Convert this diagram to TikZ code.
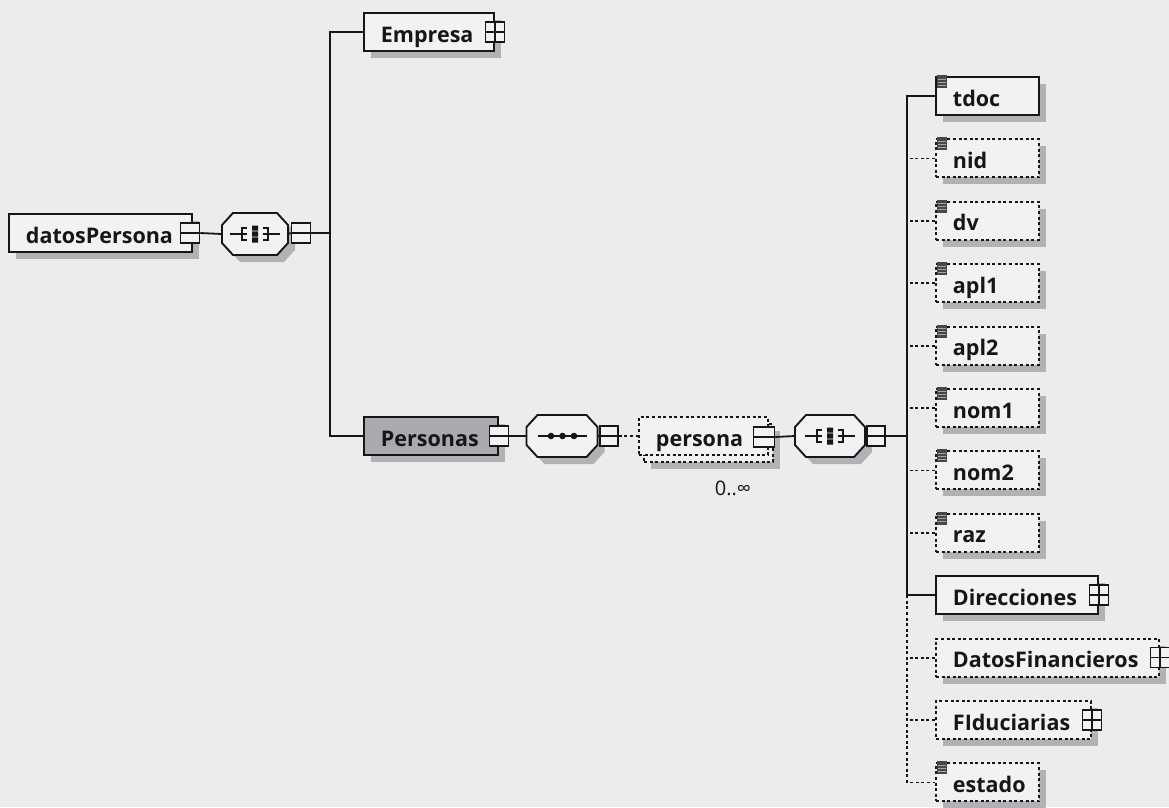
\documentclass[tikz,border=0pt]{standalone}
\usepackage{fontspec}
\setmainfont{Open Sans}
\usetikzlibrary{shadows,calc}
\definecolor{bg}{RGB}{235,237,237}
\definecolor{boxfill}{RGB}{241,243,243}
\definecolor{shadowc}{RGB}{176,178,182}
\definecolor{persfill}{RGB}{168,170,174}
\definecolor{ink}{RGB}{22,22,22}
\newcommand\elfont{\fontsize{21.5}{24}\selectfont\bfseries}
\newcommand\octa[4]{%
  \begin{scope}[shift={(#2,#3)}]
    \fill[shadowc,shift={(7,7)}] (-#4,-9) -- (-#4+11,-21) -- (#4-11,-21) -- (#4,-9) -- (#4,9) -- (#4-11,21) -- (-#4+11,21) -- (-#4,9) -- cycle;
    \filldraw[fill=boxfill,draw=ink,line width=1.9pt] (-#4,-9) -- (-#4+11,-21) -- (#4-11,-21) -- (#4,-9) -- (#4,9) -- (#4-11,21) -- (-#4+11,21) -- (-#4,9) -- cycle;
  \end{scope}
  \node[inner sep=0pt,minimum width=2*#4,minimum height=42] (#1) at (#2,#3) {};}
\newcommand\choicesym[2]{%
  \begin{scope}[shift={(#1,#2)},line width=1.5pt,draw=ink]
    \draw (-25,0) -- (-8,0) (-8,-6) -- (-13,-6) -- (-13,6) -- (-8,6);
    \draw (25,0) -- (8,0) (8,-6) -- (13,-6) -- (13,6) -- (8,6);
    \fill[ink] (-3,-8.5) rectangle (3,-3.3) (-3,-2.6) rectangle (3,2.6) (-3,3.3) rectangle (3,8.5);
  \end{scope}}
\newcommand\seqsym[2]{%
  \begin{scope}[shift={(#1,#2)}]
    \draw[line width=1.5pt,ink] (-24,0) -- (25,0);
    \fill[ink] (-11,0) circle (3.3) (0.5,0) circle (3.3) (12,0) circle (3.3);
  \end{scope}}
\newcommand\typeicon[1]{%
  \fill[black!72] ($(#1.north west)+(2,-1)$) rectangle ($(#1.north west)+(12,12)$);
  \draw[black!35,line width=0.8pt] ($(#1.north west)+(3,3)$) -- ($(#1.north west)+(11,3)$)
    ($(#1.north west)+(3,6)$) -- ($(#1.north west)+(11,6)$)
    ($(#1.north west)+(3,9)$) -- ($(#1.north west)+(11,9)$);}
\tikzset{
  shd/.style={general shadow={fill=shadowc,shadow xshift=7pt,shadow yshift=-7pt}},
  elem/.style={draw=ink,line width=1.9pt,fill=boxfill,inner xsep=0pt,inner ysep=0pt,
    minimum height=38pt,text height=24pt,text depth=4pt,align=left,font=\elfont,
    text=ink,anchor=west,execute at begin node={\noindent\hspace*{17pt}}},
  opt/.style={elem,dash pattern=on 3pt off 2.6pt},
  mbox/.style={draw=ink,line width=1.5pt,fill=boxfill,minimum width=19pt,minimum height=20pt,inner sep=0pt,
    path picture={\draw[ink,line width=1.5pt] (path picture bounding box.west) -- (path picture bounding box.east);}},
  pbox/.style={mbox,path picture={\draw[ink,line width=1.5pt] (path picture bounding box.west) -- (path picture bounding box.east)
     (path picture bounding box.north) -- (path picture bounding box.south);}},
  conn/.style={draw=ink,line width=1.8pt},
  dconn/.style={conn,dash pattern=on 3pt off 2.6pt},
}
\begin{document}
\begin{tikzpicture}[x=1pt,y=-1pt]
\fill[bg] (0,0) rectangle (1169,807);
\useasboundingbox (0,0) rectangle (1169,807);
% left part
\node[elem,shd,text width=183pt] (dp) at (8,233) {datosPersona};
\node[mbox] (dpm) at (190,233) {};
\octa{o1}{255}{234}{33}
\choicesym{255}{234}
\node[mbox] (o1m) at (301,233) {};
\coordinate (v1) at (330,233);
\node[elem,shd,text width=130pt] (emp) at (363,32) {Empresa};
\node[pbox] (empp) at (emp.east) {};
\node[elem,shd,fill=persfill,text width=134pt] (pers) at (363,436) {Personas};
\node[mbox] (persm) at (pers.east) {};
\draw[conn] (dpm.east) -- (o1.west);
\draw[conn] (o1.east) -- (o1m.west);
\draw[conn] (o1m.east) -- (v1);
\draw[conn] (emp.west) -| (v1) |- (pers.west);
% sequence
\octa{o2}{562}{436}{35.5}
\seqsym{562}{436}
\node[mbox,minimum width=18pt] (o2m) at (609,436) {};
% persona
\node[opt,shd,text width=129pt] (psnb) at (643,443) {\phantom{x}};
\node[opt,text width=129pt] (psn) at (638,436) {persona};
\node[mbox,minimum width=21pt] (psnm) at (764,437) {};
\node[font=\fontsize{20}{22}\selectfont,text=ink] (occ) at (733,488) {0..∞};
\draw[conn] (persm.east) -- (o2.west);
\draw[conn] (o2.east) -- (o2m.west);
\draw[dconn] (o2m.east) -- (psn.west);
% choice
\octa{o3}{830}{436}{35}
\choicesym{830}{436}
\node[mbox,minimum width=18pt] (o3m) at (876,436) {};
\coordinate (v2) at (907,436);
\draw[conn] (psnm.east) -- (o3.west);
\draw[conn] (o3.east) -- (o3m.west);
\draw[conn] (o3m.east) -- (v2);
% children
\node[elem,shd,text width=103pt] (c1) at (935,96) {tdoc};
\foreach \i/\t in {2/nid,3/dv,4/apl1,5/apl2,6/nom1,7/nom2,8/raz}{
  \node[opt,shd,text width=103pt] (c\i) at (935,96+62.4*\i-62.4) {\t};
}
\node[elem,shd,text width=162pt] (c9) at (935,595.2) {Direcciones};
\node[opt,shd,text width=223pt] (c10) at (935,657.6) {DatosFinancieros};
\node[opt,shd,text width=155pt] (c11) at (935,720) {FIduciarias};
\node[opt,shd,text width=103pt] (c12) at (935,782.4) {estado};
\node[pbox] (c9p) at (c9.east) {};
\node[pbox] (c10p) at (c10.east) {};
\node[pbox] (c11p) at (c11.east) {};
\foreach \i in {1,...,8,12}{\typeicon{c\i}}
\draw[conn] (c1.west) -| (v2) |- (c9.west);
\foreach \i in {2,...,8}{\draw[dconn] (c\i.west) -- (c\i.west -| v2);}
\draw[dconn] (c9.west -| v2) |- (c12.west);
\foreach \i in {10,11}{\draw[dconn] (c\i.west) -- (c\i.west -| v2);}
\end{tikzpicture}
\end{document}
